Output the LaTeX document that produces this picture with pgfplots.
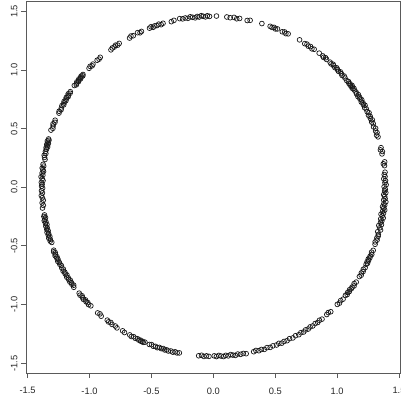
\documentclass[border=0pt]{standalone}
\usepackage{fontspec}
\setmainfont{Liberation Sans}
\usepackage{pgfplots}
\pgfplotsset{compat=1.18}
\definecolor{axisgray}{HTML}{5A5A5A}
\begin{document}
\begin{tikzpicture}[x=1pt,y=1pt]
\clip (0,0) rectangle (401,401);
\begin{axis}[
    scale only axis, width=374pt, height=372pt,
    at={(26pt,28pt)}, anchor=south west,
    xmin=-1.513, xmax=1.508, ymin=-1.583, ymax=1.588,
    xtick={-1.5,-1,-0.5,0,0.5,1,1.5}, ytick={-1.5,-1,-0.5,0,0.5,1,1.5},
    xtick pos=left, ytick pos=left,
    tick align=outside, major tick length=5pt,
    axis line style={axisgray, line width=0.9pt},
    every tick/.style={axisgray, line width=0.9pt},
    tick label style={font=\fontsize{9.3}{10}\selectfont, text=black!85},
    xticklabel style={yshift=-6pt},
    yticklabel style={rotate=90, anchor=south},
    /pgf/number format/fixed, /pgf/number format/fixed zerofill,
    /pgf/number format/precision=1, /pgf/number format/assume math mode=true]
% points as (angle in degrees, radius)
\addplot[only marks, mark=o, mark size=2.4pt, data cs=polar,
    mark options={draw=black!90, line width=0.7pt}] coordinates {
(343.2,1.392)(344.1,1.381)(344.9,1.399)(345.6,1.388)(346.3,1.376)(346.8,1.395)(347.5,1.384)
(348.1,1.391)(348.7,1.379)(349.2,1.397)(349.9,1.386)(350.4,1.374)(350.8,1.392)(351.5,1.383)
(352.0,1.398)(352.6,1.388)(353.1,1.377)(353.7,1.393)(354.2,1.385)(354.9,1.399)(355.5,1.381)
(356.0,1.391)(356.8,1.386)(357.4,1.378)(358.1,1.394)(358.7,1.384)(359.3,1.389)(0.2,1.380)
(0.9,1.396)(1.6,1.387)(2.3,1.392)(3.0,1.379)(3.8,1.390)(4.5,1.385)(5.3,1.393)
(7.6,1.395)(8.3,1.388)(8.9,1.401)
(11.8,1.392)(12.6,1.399)(13.3,1.387)(14.0,1.396)
(17.9,1.398)(18.6,1.392)(19.4,1.402)(20.1,1.396)(21.0,1.404)(21.7,1.393)
(22.8,1.401)(23.5,1.395)(24.1,1.407)(24.8,1.398)(25.5,1.404)(26.1,1.396)(26.8,1.409)(27.4,1.400)
(28.4,1.405)(29.0,1.398)(29.7,1.411)(30.2,1.402)(30.8,1.407)(31.3,1.399)(31.9,1.412)(32.4,1.404)
(33.0,1.409)(33.5,1.401)(34.0,1.413)(34.6,1.405)(35.2,1.410)
(36.1,1.408)(36.6,1.415)(37.0,1.404)(37.4,1.411)(37.8,1.418)(38.2,1.407)(38.6,1.413)(39.0,1.409)
(39.5,1.416)(40.1,1.410)
(41.2,1.414)(41.9,1.420)(42.5,1.411)(43.1,1.417)
(43.8,1.422)(44.4,1.414)(45.0,1.419)(45.6,1.425)(46.1,1.416)
(46.8,1.421)(47.3,1.427)(47.9,1.418)(48.5,1.424)
(50.0,1.423)(50.6,1.429)(51.2,1.421)(51.7,1.427)
(53.2,1.428)
(55.3,1.431)(56.0,1.424)(56.8,1.434)(57.5,1.427)(58.2,1.436)(58.9,1.430)
(61.0,1.437)
(65.2,1.441)(65.9,1.435)(66.5,1.444)(67.2,1.438)
(69.0,1.446)(69.6,1.440)(70.2,1.449)(70.8,1.443)(71.5,1.447)
(74.3,1.450)
(78.2,1.454)(79.1,1.448)
(81.6,1.455)(82.5,1.449)(83.4,1.458)(84.6,1.452)(85.7,1.456)
(89.0,1.460)
(91.2,1.457)(91.9,1.463)(92.5,1.454)(93.2,1.460)(93.8,1.466)(94.5,1.456)(95.1,1.462)(95.8,1.452)
(96.6,1.459)(97.3,1.465)(98.1,1.455)(98.9,1.461)(99.8,1.457)(100.7,1.463)
(102.6,1.458)(103.5,1.452)
(106.2,1.456)(106.9,1.449)(107.6,1.459)(108.3,1.452)
(109.0,1.455)(109.6,1.448)(110.2,1.458)(110.8,1.451)
(113.6,1.450)(114.2,1.444)(114.9,1.453)
(116.6,1.445)(117.3,1.451)(118.0,1.441)
(121.8,1.443)(122.5,1.437)(123.1,1.446)(123.8,1.439)(124.5,1.441)(125.2,1.434)
(129.5,1.436)(130.2,1.430)(130.9,1.433)
(132.8,1.431)(133.4,1.425)(134.0,1.433)(134.7,1.427)
(137.6,1.426)(138.0,1.419)(138.4,1.428)(138.8,1.422)(139.2,1.416)(139.6,1.425)(140.0,1.419)
(140.4,1.413)(140.8,1.422)(141.2,1.416)(141.7,1.410)(142.3,1.419)
(144.8,1.414)(145.3,1.408)(145.8,1.417)(146.3,1.410)(146.7,1.404)(147.2,1.413)(147.7,1.407)
(148.2,1.401)(148.7,1.410)(149.2,1.404)(149.8,1.398)(150.3,1.407)
(151.2,1.401)(151.8,1.396)(152.5,1.404)(153.1,1.398)
(155.9,1.400)(156.6,1.394)(157.3,1.403)(158.0,1.396)(158.8,1.390)(159.6,1.399)
(162.8,1.393)(163.2,1.387)(163.6,1.397)(164.0,1.390)(164.4,1.384)(164.8,1.394)(165.2,1.388)
(165.6,1.382)(166.0,1.392)(166.5,1.386)
(167.3,1.390)(168.0,1.383)(168.7,1.393)(169.4,1.387)(170.1,1.380)
(171.9,1.389)(172.5,1.382)(173.2,1.392)(173.8,1.385)(174.4,1.378)(175.0,1.388)(175.7,1.381)
(176.3,1.394)(177.0,1.384)(177.6,1.377)(178.3,1.390)(178.9,1.383)(179.6,1.387)(180.3,1.379)
(181.2,1.388)(182.0,1.381)(182.9,1.391)(183.7,1.384)(184.6,1.378)(185.5,1.389)(186.4,1.382)(187.3,1.391)
(189.8,1.384)(190.3,1.391)(190.8,1.380)(191.3,1.388)(191.8,1.395)(192.3,1.384)(192.8,1.390)
(193.3,1.381)(193.8,1.393)(194.4,1.386)
(195.0,1.392)(195.5,1.385)(196.0,1.397)(196.5,1.388)(197.0,1.394)(197.6,1.386)(198.1,1.398)
(198.6,1.390)(199.2,1.395)(199.8,1.387)
(202.6,1.396)(203.1,1.402)(203.6,1.393)(204.1,1.399)(204.6,1.405)(205.1,1.395)(205.6,1.401)
(206.1,1.397)(206.7,1.406)(207.3,1.399)(207.9,1.403)(208.5,1.397)
(209.3,1.404)(209.9,1.398)(210.5,1.408)(211.1,1.401)(211.7,1.406)(212.3,1.399)(212.9,1.410)
(213.4,1.403)(213.9,1.408)(214.4,1.401)(214.9,1.412)(215.4,1.405)(215.9,1.410)(216.5,1.403)(217.1,1.413)
(219.8,1.410)(220.5,1.416)(221.1,1.407)(221.7,1.414)(222.3,1.419)(222.9,1.410)(223.5,1.417)
(224.1,1.412)(224.8,1.420)(225.6,1.414)
(228.9,1.421)(229.7,1.415)(230.5,1.424)
(232.9,1.420)(233.6,1.426)(234.3,1.419)(235.0,1.427)
(236.2,1.423)(237.0,1.429)
(239.1,1.426)(239.9,1.431)
(241.8,1.428)(242.5,1.434)(243.2,1.427)(243.9,1.433)(244.6,1.429)
(245.2,1.435)(245.6,1.430)(246.0,1.437)(246.4,1.432)(246.8,1.438)(247.3,1.431)
(248.9,1.436)(249.6,1.431)(250.3,1.439)(251.0,1.434)(251.7,1.440)(252.3,1.433)
(253.0,1.438)(253.6,1.433)(254.2,1.441)(254.8,1.436)(255.4,1.442)
(256.2,1.437)(256.9,1.443)(257.6,1.436)(258.3,1.442)(259.0,1.438)
(265.3,1.441)(266.2,1.435)(267.0,1.444)(267.8,1.438)(268.6,1.442)
(270.3,1.437)(271.0,1.443)(271.8,1.434)(272.5,1.440)(273.3,1.445)(274.0,1.436)(274.8,1.442)
(275.6,1.433)(276.3,1.439)(277.1,1.444)(277.9,1.435)(278.8,1.441)(279.7,1.437)(280.6,1.443)
(283.1,1.439)(283.9,1.433)(284.8,1.441)(285.7,1.436)(286.6,1.442)(287.6,1.434)(288.6,1.440)(289.6,1.435)
(290.8,1.438)(291.7,1.432)(292.6,1.439)(293.5,1.433)(294.5,1.437)(295.5,1.430)(296.6,1.436)(297.7,1.429)
(298.8,1.434)(299.7,1.427)(300.6,1.433)(301.5,1.426)(302.4,1.431)(303.3,1.424)(304.2,1.429)
(305.3,1.423)(306.2,1.428)(307.1,1.421)(308.0,1.426)
(310.2,1.420)(311.0,1.415)(311.8,1.423)
(315.1,1.414)(315.9,1.419)(316.8,1.411)(317.7,1.417)
(319.2,1.410)(319.8,1.416)(320.4,1.408)(321.0,1.413)(321.6,1.405)(322.2,1.411)(322.8,1.407)
(323.5,1.414)(324.2,1.403)(325.0,1.409)
(327.2,1.404)(327.9,1.410)(328.6,1.401)(329.3,1.407)(330.0,1.399)(330.8,1.405)
(332.0,1.398)(332.5,1.404)(333.0,1.395)(333.5,1.401)(334.0,1.393)(334.6,1.400)(335.2,1.396)
(335.9,1.402)(336.6,1.393)(337.4,1.399)
(339.6,1.394)(340.4,1.388)(341.2,1.397)(341.9,1.390)(342.6,1.395)
};
\end{axis}
\end{tikzpicture}
\end{document}
